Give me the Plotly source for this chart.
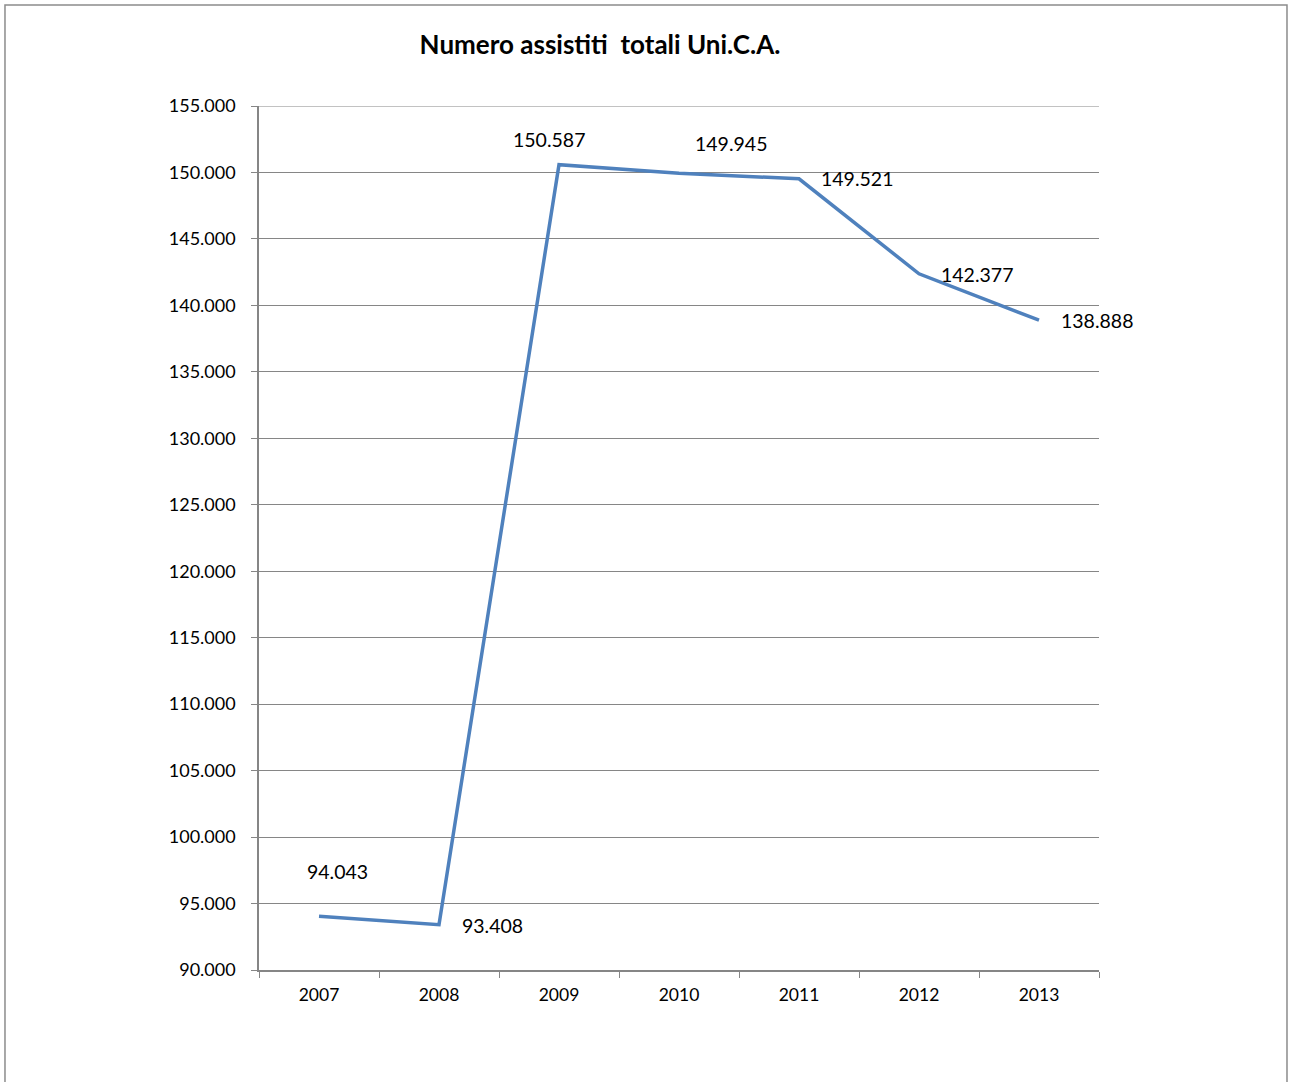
import plotly.graph_objects as go

years = ["2007", "2008", "2009", "2010", "2011", "2012", "2013"]
assistiti = [94043, 93408, 150587, 149945, 149521, 142377, 138888]
y_ticks = list(range(90000, 155001, 5000))
label_shift_x = [18, 53, -10, 52, 58, 58, 58]
label_shift_y = [45, -1, 25, 30, 0, -1, 0]

FONT = "Lato, Carlito, Calibri, sans-serif"

def fmt(v):
    return f"{v:,}".replace(",", ".")

fig = go.Figure()
fig.add_trace(go.Scatter(
    x=years, y=assistiti, mode="lines",
    line=dict(color="#4F81BD", width=3.5),
    showlegend=False, hoverinfo="skip",
))

for i, (v, dx, dy) in enumerate(zip(assistiti, label_shift_x, label_shift_y)):
    fig.add_annotation(x=i, y=v, xref="x", yref="y", text=fmt(v), showarrow=False,
                       xshift=dx, yshift=dy,
                       font=dict(family=FONT, size=19.5, color="#000000"))

# top gridline (at the upper end of the value axis)
fig.add_shape(type="line", xref="paper", yref="y", x0=0, x1=1,
              y0=y_ticks[-1], y1=y_ticks[-1],
              line=dict(color="#868686", width=1), layer="below")

fig.add_shape(type="rect", xref="paper", yref="paper",
              x0=-0.3024, x1=1.2238, y0=-0.16, y1=1.1169,
              line=dict(color="#8C8C8C", width=1.5), layer="below")

fig.update_layout(
    width=1289, height=1082,
    margin=dict(l=259, r=190, t=106, b=112),
    paper_bgcolor="white", plot_bgcolor="white",
    title=dict(text="<b>Numero assistiti  totali Uni.C.A.</b>",
               x=600/1289, xanchor="center", y=1-45/1082, yanchor="middle",
               font=dict(family=FONT, size=26, color="#000000")),
    xaxis=dict(type="category", tickson="boundaries", ticks="outside",
               ticklen=6, tickcolor="#868686", showline=True,
               linecolor="#868686", linewidth=1.5, showgrid=False,
               ticklabelstandoff=8,
               tickfont=dict(family=FONT, size=17.5, color="#000000"),
               range=[-0.5, 6.5], fixedrange=True),
    yaxis=dict(range=[90000, 155000], tickvals=y_ticks,
               ticktext=[fmt(t) for t in y_ticks],
               ticks="outside", ticklen=6, tickcolor="#868686",
               showline=True, linecolor="#868686", linewidth=1.5,
               showgrid=True, gridcolor="#868686", gridwidth=1,
               zeroline=False, ticklabelstandoff=12,
               tickfont=dict(family=FONT, size=18, color="#000000")),
)

fig.write_html("out.html")
